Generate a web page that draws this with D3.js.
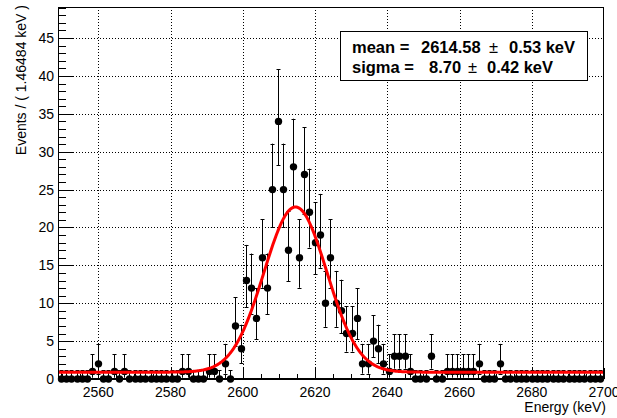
<!DOCTYPE html>
<html>
<head>
<meta charset="utf-8">
<style>
  body { margin: 0; background: #fff; }
  svg { display: block; font-family: "Liberation Sans", Arial, Helvetica, sans-serif; }
</style>
</head>
<body>
<div id="container"></div>

<script src="https://d3js.org/d3.v7.min.js"></script>

<script>
  // histogram binning (keV)
  const binLow = 2548.828125;
  const binWidth = 1.46484375;

  // events per bin
  const counts = [
    0, 0, 0, 0, 0, 0, 1, 2, 0, 0,
    1, 0, 1, 0, 0, 0, 0, 0, 0, 0,
    0, 0, 0, 1, 1, 0, 0, 0, 1, 1,
    0, 2, 0, 7, 4, 13, 12, 8, 16, 12,
    25, 34, 25, 17, 28, 16, 27, 22, 18, 19,
    10, 16, 10, 9, 6, 6, 8, 2, 2, 5,
    4, 2, 1, 3, 3, 3, 1, 0, 0, 0,
    3, 0, 0, 1, 1, 1, 1, 1, 1, 2,
    0, 0, 0, 2, 0, 0, 0, 0, 0, 0,
    0, 0, 0, 0, 0, 0, 0, 0, 0, 0,
    0, 0, 0
  ];

  // fit result (gauss + flat background)
  const fitMean = 2614.58;
  const fitSigma = 8.70;
  const fitAmp = 21.8;
  const fitBkg = 0.9;

  const xTicks = [2560, 2580, 2600, 2620, 2640, 2660, 2680, 2700];
  const yTicks = [0, 5, 10, 15, 20, 25, 30, 35, 40, 45];
  const statLines = [
    { label: "mean =", value: "2614.58", err: "0.53 keV" },
    { label: "sigma =", value: "8.70", err: "0.42 keV" }
  ];

  const W = 617, H = 418;
  const frame = { left: 58, right: 604, top: 7, bottom: 379 };

  const svg = d3.select("#container")
    .append("svg")
    .attr("width", W)
    .attr("height", H);

  svg.append("rect").attr("width", W).attr("height", H).attr("fill", "#fff");

  const x = d3.scaleLinear().domain([binLow, 2700]).range([frame.left, frame.right]);
  const y = d3.scaleLinear().domain([0, 49.1]).range([frame.bottom, frame.top]);

  // poisson 68% interval like RooFit draws it
  const poisCdf = (n, mu) => {
    let term = Math.exp(-mu), sum = term;
    for (let k = 1; k <= n; k++) { term *= mu / k; sum += term; }
    return sum;
  };
  // f must be decreasing in mu
  const solve = (f, lo, hi) => {
    for (let i = 0; i < 60; i++) {
      const mid = (lo + hi) / 2;
      if (f(mid) > 0) lo = mid; else hi = mid;
    }
    return (lo + hi) / 2;
  };
  const poisInterval = (n) => {
    if (n === 0) return [0, -Math.log(0.3173)];
    const a = 0.158655;
    const hi = n + 10 * Math.sqrt(n) + 10;
    const lo = solve(mu => poisCdf(n - 1, mu) - (1 - a), 0, hi);
    const up = solve(mu => poisCdf(n, mu) - a, 0, hi);
    return [lo, up];
  };

  const points = counts.map((c, i) => {
    const iv = poisInterval(c);
    return { e: binLow + (i + 0.5) * binWidth, n: c, lo: iv[0], hi: iv[1] };
  });

  // grid
  const grid = svg.append("g")
    .attr("stroke", "#000")
    .attr("stroke-width", 1)
    .attr("stroke-dasharray", "1,2");
  grid.selectAll("line.gx")
    .data(xTicks.filter(t => x(t) < frame.right - 1))
    .join("line")
    .attr("x1", d => Math.round(x(d)) + 0.5)
    .attr("x2", d => Math.round(x(d)) + 0.5)
    .attr("y1", frame.top)
    .attr("y2", frame.bottom);
  grid.selectAll("line.gy")
    .data(yTicks.filter(t => t > 0))
    .join("line")
    .attr("y1", d => Math.round(y(d)) + 0.5)
    .attr("y2", d => Math.round(y(d)) + 0.5)
    .attr("x1", frame.left)
    .attr("x2", frame.right);

  // ticks (inward, ROOT style)
  const ticks = svg.append("g").attr("stroke", "#000").attr("stroke-width", 1);
  ticks.selectAll("line.ym")
    .data(d3.range(0, 50, 1))
    .join("line")
    .attr("x1", frame.left)
    .attr("x2", d => frame.left + (d % 5 === 0 ? 16 : 8))
    .attr("y1", d => Math.round(y(d)) + 0.5)
    .attr("y2", d => Math.round(y(d)) + 0.5);
  ticks.selectAll("line.xm")
    .data(d3.range(2550, 2701, 5))
    .join("line")
    .attr("x1", d => Math.round(x(d)) + 0.5)
    .attr("x2", d => Math.round(x(d)) + 0.5)
    .attr("y1", frame.bottom)
    .attr("y2", d => frame.bottom - (d % 20 === 0 ? 11 : 5));

  // fit curve
  const fitFn = e => fitBkg + fitAmp * Math.exp(-0.5 * ((e - fitMean) / fitSigma) ** 2);
  const curve = d3.range(binLow, 2700.01, 0.25).map(e => [e, fitFn(e)]);

  // error bars
  const cap = 2;
  const bars = svg.append("g").attr("stroke", "#000").attr("stroke-width", 1);
  const bar = bars.selectAll("g").data(points).join("g");
  bar.append("line")
    .attr("x1", d => Math.round(x(d.e)) + 0.5)
    .attr("x2", d => Math.round(x(d.e)) + 0.5)
    .attr("y1", d => y(d.lo))
    .attr("y2", d => y(d.hi));
  bar.append("line")
    .attr("x1", d => Math.round(x(d.e)) + 0.5 - cap)
    .attr("x2", d => Math.round(x(d.e)) + 0.5 + cap)
    .attr("y1", d => Math.round(y(d.hi)) + 0.5)
    .attr("y2", d => Math.round(y(d.hi)) + 0.5);
  bar.filter(d => d.n > 0).append("line")
    .attr("x1", d => Math.round(x(d.e)) + 0.5 - cap)
    .attr("x2", d => Math.round(x(d.e)) + 0.5 + cap)
    .attr("y1", d => Math.round(y(d.lo)) + 0.5)
    .attr("y2", d => Math.round(y(d.lo)) + 0.5);

  svg.append("g")
    .selectAll("circle")
    .data(points)
    .join("circle")
    .attr("cx", d => Math.round(x(d.e)) + 0.5)
    .attr("cy", d => y(d.n))
    .attr("r", 3.7)
    .attr("fill", "#000");

  svg.append("path")
    .datum(curve)
    .attr("fill", "none")
    .attr("stroke", "#ff0000")
    .attr("stroke-width", 3)
    .attr("d", d3.line().x(d => x(d[0])).y(d => y(d[1])));

  // frame
  svg.append("rect")
    .attr("x", frame.left + 0.5)
    .attr("y", frame.top + 0.5)
    .attr("width", frame.right - frame.left - 1)
    .attr("height", frame.bottom - frame.top - 1)
    .attr("fill", "none")
    .attr("stroke", "#000")
    .attr("stroke-width", 1);
  svg.append("line")
    .attr("x1", frame.left).attr("x2", frame.right)
    .attr("y1", frame.bottom).attr("y2", frame.bottom)
    .attr("stroke", "#000").attr("stroke-width", 2);

  // tick labels
  svg.append("g")
    .attr("font-size", 14)
    .attr("text-anchor", "end")
    .selectAll("text")
    .data(yTicks)
    .join("text")
    .attr("x", frame.left - 4)
    .attr("y", d => y(d) + 5)
    .text(d => d);
  svg.append("g")
    .attr("font-size", 14)
    .attr("text-anchor", "middle")
    .selectAll("text")
    .data(xTicks)
    .join("text")
    .attr("x", d => x(d))
    .attr("y", 397)
    .text(d => d);

  // axis titles
  svg.append("text")
    .attr("x", 606)
    .attr("y", 412)
    .attr("text-anchor", "end")
    .attr("font-size", 14)
    .text("Energy (keV)");
  svg.append("text")
    .attr("transform", "translate(26,5) rotate(-90)")
    .attr("text-anchor", "end")
    .attr("font-size", 14)
    .text("Events / ( 1.46484 keV )");

  // stats box
  svg.append("rect")
    .attr("x", 340.5).attr("y", 31.5)
    .attr("width", 247).attr("height", 49)
    .attr("fill", "#fff")
    .attr("stroke", "#000");
  const box = svg.append("g").attr("font-size", 16.5).attr("font-weight", "bold");
  const cols = [
    { label: 352, value: 421, pm: 489, err: 509 },
    { label: 352, value: 429, pm: 468, err: 487 }
  ];
  statLines.forEach((s, i) => {
    const yy = 53 + i * 20;
    const c = cols[i];
    box.append("text").attr("x", c.label).attr("y", yy).text(s.label);
    box.append("text").attr("x", c.value).attr("y", yy).text(s.value);
    box.append("text").attr("x", c.pm).attr("y", yy).attr("font-weight", "normal").text("\u00b1");
    box.append("text").attr("x", c.err).attr("y", yy).text(s.err);
  });
</script>
</body>
</html>
